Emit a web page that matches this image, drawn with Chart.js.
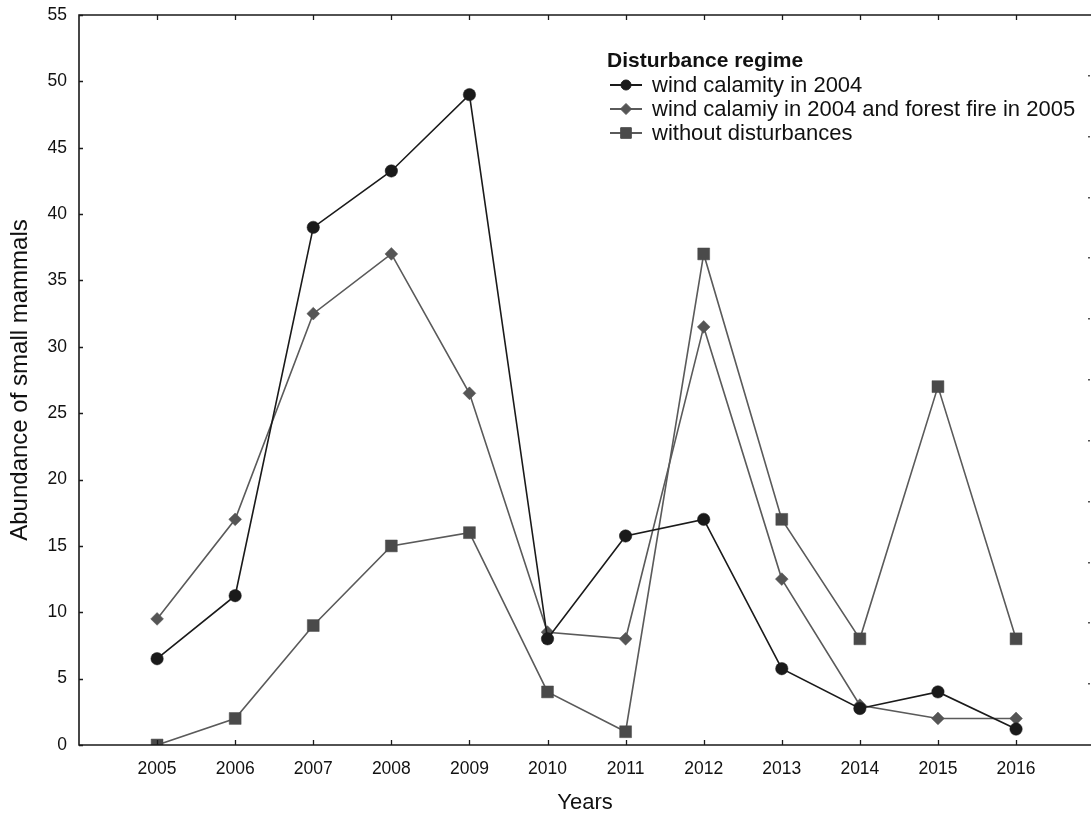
<!DOCTYPE html>
<html>
<head>
<meta charset="utf-8">
<script src="https://cdn.jsdelivr.net/npm/chart.js@4.4.1/dist/chart.umd.min.js"></script>
<style>
  html, body { margin: 0; padding: 0; background: #ffffff; overflow: hidden; }
  #wrap { width: 1091px; height: 818px; position: relative; }
  #c { display: block; }
</style>
</head>
<body>
<div id="wrap"><canvas id="c"></canvas></div>
<script>
// Sampling years and abundance of small mammals per disturbance regime
const years = [2005, 2006, 2007, 2008, 2009, 2010, 2011, 2012, 2013, 2014, 2015, 2016];
const windCalamity = [6.5, 11.25, 39, 43.25, 49, 8, 15.75, 17, 5.75, 2.75, 4, 1.2];
const windAndFire = [9.5, 17, 32.5, 37, 26.5, 8.5, 8, 31.5, 12.5, 3, 2, 2];
const undisturbed = [0, 2, 9, 15, 16, 4, 1, 37, 17, 8, 27, 8];

const seriesNames = [
  'wind calamity in 2004',
  'wind calamiy in 2004 and forest fire in 2005',
  'without disturbances'
];
const legendTitle = 'Disturbance regime';
const yTickValues = [0, 5, 10, 15, 20, 25, 30, 35, 40, 45, 50, 55];
const xAxisTitle = 'Years';
const yAxisTitle = 'Abundance of small mammals';

const FONT = '"Liberation Sans", Arial, Helvetica, sans-serif';

const toPoints = vals => vals.map((v, i) => ({ x: years[i], y: v }));

// Frame: left/bottom/top lines and short inward tick marks
const framePlugin = {
  id: 'frame',
  afterDatasetsDraw(chart) {
    const { ctx, chartArea: a, scales } = chart;
    ctx.save();
    ctx.strokeStyle = '#1a1a1a';
    ctx.lineWidth = 1.6;
    ctx.beginPath();
    ctx.moveTo(a.right, a.top);
    ctx.lineTo(a.left, a.top);
    ctx.lineTo(a.left, a.bottom);
    ctx.lineTo(a.right, a.bottom);
    ctx.stroke();

    ctx.lineWidth = 1.3;
    ctx.beginPath();
    yTickValues.forEach(v => {
      const y = Math.round(scales.y.getPixelForValue(v)) + 0.5;
      ctx.moveTo(a.left, y);
      ctx.lineTo(a.left + 4, y);
    });
    years.forEach(v => {
      const x = Math.round(scales.x.getPixelForValue(v)) + 0.5;
      ctx.moveTo(x, a.bottom);
      ctx.lineTo(x, a.bottom - 5);
      ctx.moveTo(x, a.top);
      ctx.lineTo(x, a.top + 5);
    });
    ctx.stroke();

    // faint marks along the right edge
    ctx.fillStyle = '#555';
    for (let k = 1; k < 12; k++) {
      const y = a.top + k * (a.bottom - a.top) / 12;
      ctx.fillRect(a.right - 3, Math.round(y) - 1, 2, 1.5);
    }
    ctx.restore();
  }
};

// Legend block with a bold heading, drawn from the dataset styles
const legendPlugin = {
  id: 'regimeLegend',
  afterDraw(chart) {
    const { ctx } = chart;
    const x0 = 607, titleY = 61, firstY = 85, step = 24;
    ctx.save();
    ctx.fillStyle = '#111';
    ctx.textBaseline = 'middle';
    ctx.textAlign = 'left';
    ctx.font = 'bold 21px ' + FONT;
    ctx.fillText(legendTitle, x0, titleY);
    ctx.font = '22px ' + FONT;
    chart.data.datasets.forEach((ds, i) => {
      const y = firstY + i * step;
      ctx.strokeStyle = ds.borderColor;
      ctx.lineWidth = 2;
      ctx.beginPath();
      ctx.moveTo(x0 + 3, y);
      ctx.lineTo(x0 + 35, y);
      ctx.stroke();
      ctx.fillStyle = ds.pointBackgroundColor;
      ctx.strokeStyle = ds.pointBackgroundColor;
      ctx.lineWidth = 1;
      Chart.helpers.drawPoint(ctx, {
        pointStyle: ds.pointStyle,
        radius: ds.legendRadius,
        rotation: 0,
        borderWidth: 1
      }, x0 + 19, y);
      ctx.fillStyle = '#111';
      ctx.fillText(ds.label, x0 + 45, y + 1);
    });
    ctx.restore();
  }
};

new Chart(document.getElementById('c'), {
  type: 'line',
  data: {
    datasets: [
      {
        label: seriesNames[0],
        data: toPoints(windCalamity),
        borderColor: '#1a1a1a',
        borderWidth: 1.6,
        pointStyle: 'circle',
        pointRadius: 6.2,
        legendRadius: 5,
        pointBackgroundColor: '#1a1a1a',
        pointBorderColor: '#1a1a1a',
        pointBorderWidth: 0.5
      },
      {
        label: seriesNames[1],
        data: toPoints(windAndFire),
        borderColor: '#5a5a5a',
        borderWidth: 1.6,
        pointStyle: 'rectRot',
        pointRadius: 6.4,
        legendRadius: 5.5,
        pointBackgroundColor: '#555555',
        pointBorderColor: '#555555',
        pointBorderWidth: 0.5
      },
      {
        label: seriesNames[2],
        data: toPoints(undisturbed),
        borderColor: '#5a5a5a',
        borderWidth: 1.6,
        pointStyle: 'rect',
        pointRadius: 8.4,
        legendRadius: 7.5,
        pointBackgroundColor: '#4a4a4a',
        pointBorderColor: '#4a4a4a',
        pointBorderWidth: 0.5
      }
    ]
  },
  options: {
    responsive: true,
    maintainAspectRatio: false,
    animation: false,
    layout: { autoPadding: false, padding: { top: 15, right: 0, bottom: 0, left: 0 } },
    plugins: {
      legend: { display: false },
      tooltip: { enabled: false }
    },
    scales: {
      x: {
        type: 'linear',
        min: 2004,
        max: 2016.96,
        afterBuildTicks: s => { s.ticks = years.map(v => ({ value: v })); },
        afterFit: s => { s.height = 73; s.paddingLeft = 0; s.paddingRight = 0; },
        grid: { display: false, drawTicks: false },
        border: { display: false },
        ticks: {
          color: '#111',
          font: { family: FONT, size: 17.5 },
          padding: 14,
          maxRotation: 0,
          autoSkip: false,
          callback: v => String(v)
        },
        title: {
          display: true,
          text: xAxisTitle,
          color: '#111',
          font: { family: FONT, size: 22 },
          padding: { top: 0, bottom: 2 }
        }
      },
      y: {
        min: 0,
        max: 55,
        afterBuildTicks: s => { s.ticks = yTickValues.map(v => ({ value: v })); },
        afterFit: s => { s.width = 79; s.paddingTop = 0; s.paddingBottom = 0; },
        grid: { display: false, drawTicks: false },
        border: { display: false },
        ticks: {
          color: '#111',
          font: { family: FONT, size: 17.5 },
          padding: 12
        },
        title: {
          display: true,
          text: yAxisTitle,
          color: '#111',
          font: { family: FONT, size: 24 },
          padding: { top: 6, bottom: 0 }
        }
      }
    }
  },
  plugins: [framePlugin, legendPlugin]
});
</script>
</body>
</html>
